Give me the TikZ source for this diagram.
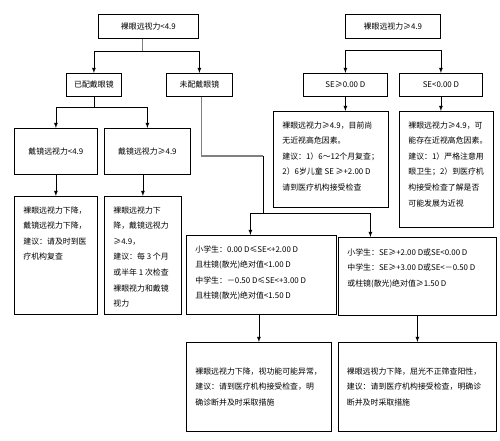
\documentclass[tikz,border=0pt]{standalone}
\usepackage{fontspec}
\newfontfamily\cjk{Noto Sans CJK SC}
\tikzset{every picture/.style={/utils/exec={\cjk}}}
\usetikzlibrary{calc}
\usetikzlibrary{positioning}

\newcommand{\boxtext}[3]{\parbox[c][#2][t]{#1}{#3}}

\begin{document}
\begin{tikzpicture}[x=1pt, y=-1pt,
  font=\cjk\fontsize{7.9pt}{15.6pt}\selectfont,
  labelbox/.style={draw, line width=0.8pt, anchor=north west, inner sep=0pt},
  textbox/.style={draw, line width=0.8pt, anchor=north west, inner xsep=9pt, inner ysep=10pt, align=left},
  arr/.style={line width=0.8pt, -latex},
  ]
  \useasboundingbox [fill=white] (0,0) rectangle (500,440);

  % one-line boxes
  \foreach \n/\x/\y/\w/\h/\t in {tl/98/14/100/24/{裸眼远视力<4.9}, tr/345/14/95/24/{裸眼远视力≥4.9},
    wear/66/73/55/23/{已配戴眼镜}, nowear/166/73/66/23/{未配戴眼镜},
    se1/303/73/84/23/{SE≥0.00 D}, se2/399/73/83/23/{SE<0.00 D},
    g1/14/128/83/46/{戴镜远视力<4.9}, g2/104/128/86/46/{戴镜远视力≥4.9}} {
    \node [labelbox, minimum width=\w pt, minimum height=\h pt] at (\x,\y) (\n) {\t};
  }

  % advice boxes
  \node [textbox] at (14,196) (r1) {\boxtext{65pt}{98pt}{裸眼远视力下降，\\戴镜远视力下降，\\建议：请及时到医\\疗机构复查}};
  \node [textbox] at (104,196) (r2) {\boxtext{59pt}{98pt}{裸眼远视力下\\降，戴镜远视力\\≥4.9，\\建议：每 3 个月\\或半年 1 次检查\\裸眼视力和戴镜\\视力}};
  \node [textbox] at (273,111) (a1) {\boxtext{97pt}{76pt}{裸眼远视力≥4.9，目前尚\\无近视高危因素。\\建议：1）6～12个月复查；\\2）6岁儿童 SE ≥+2.00 D\\请到医疗机构接受检查}};
  \node [textbox] at (399,111) (a2) {\boxtext{76pt}{96pt}{裸眼远视力≥4.9，可\\能存在近视高危因素。\\建议：1）严格注意用\\眼卫生；2）到医疗机\\构接受检查了解是否\\可能发展为近视}};

  % screening results
  \node [textbox] at (186,235) (m1) {\boxtext{132pt}{59pt}{小学生：0.00 D≤SE<+2.00 D\\且柱镜(散光)绝对值<1.00 D\\中学生：－0.50 D≤SE<+3.00 D\\且柱镜(散光)绝对值<1.50 D}};
  \node [textbox, inner ysep=11pt] at (338,237) (m2) {\boxtext{140pt}{56pt}{小学生：SE≥+2.00 D或SE<0.00 D\\中学生：SE≥+3.00 D或SE<－0.50 D\\或柱镜(散光)绝对值≥1.50 D}};

  \node [labelbox, minimum width=145pt, minimum height=89pt, text width=127pt, align=left] at (186,342) (b1) {裸眼远视力下降，视功能可能异常，\\建议：请到医疗机构接受检查，明\\确诊断并及时采取措施};
  \node [labelbox, minimum width=158pt, minimum height=89pt, text width=141pt, align=left] at (338,342) (b2) {裸眼远视力下降，屈光不正筛查阳性，\\建议：请到医疗机构接受检查，明确诊\\断并及时采取措施};

  % left branch
  \draw [line width=0.8pt, gray] ([xshift=-6pt]tl.south) -- ++(0,13) coordinate (tlj);
  \draw [arr] (tlj -| wear.north) -| (wear.north);
  \draw [arr] (tlj -| wear.north) -| (nowear.north);
  \draw [line width=0.8pt] (wear.south) -- ++(0,11) coordinate (wj);
  \draw [arr] (wj) -| (g1.north);
  \draw [arr] (wj) -| (g2.north);
  \draw [arr] (g1.south) -- (r1.north);
  \draw [arr] (g2.south -| r2.north) -- (r2.north);

  % right branch
  \path (tr.south) -- ++(0,12) coordinate (trj);
  \draw [arr] (trj -| se1.north) -| (se1.north);
  \draw [arr] (trj -| se1.north) -| (se2.north);
  \draw [arr] (se1.south) -- (se1.south |- a1.north);
  \draw [arr] (se2.south) -- (se2.south |- a2.north);

  % no glasses
  \coordinate (bend) at (263,156);
  \coordinate (split) at (263,213);
  \draw [line width=1.2pt, gray] ([xshift=2pt]nowear.south) |- (bend);
  \draw [line width=0.8pt] (bend) -- (split);
  \draw [arr] (split) -| ([xshift=-11pt]m1.north);
  \draw [arr] (split) -| ([xshift=-47pt]m2.north);
  \draw [arr] (m1.south -| b1.north) -- (b1.north);
  \draw [arr] (m2.south) -- (b2.north);

\end{tikzpicture}
\end{document}
